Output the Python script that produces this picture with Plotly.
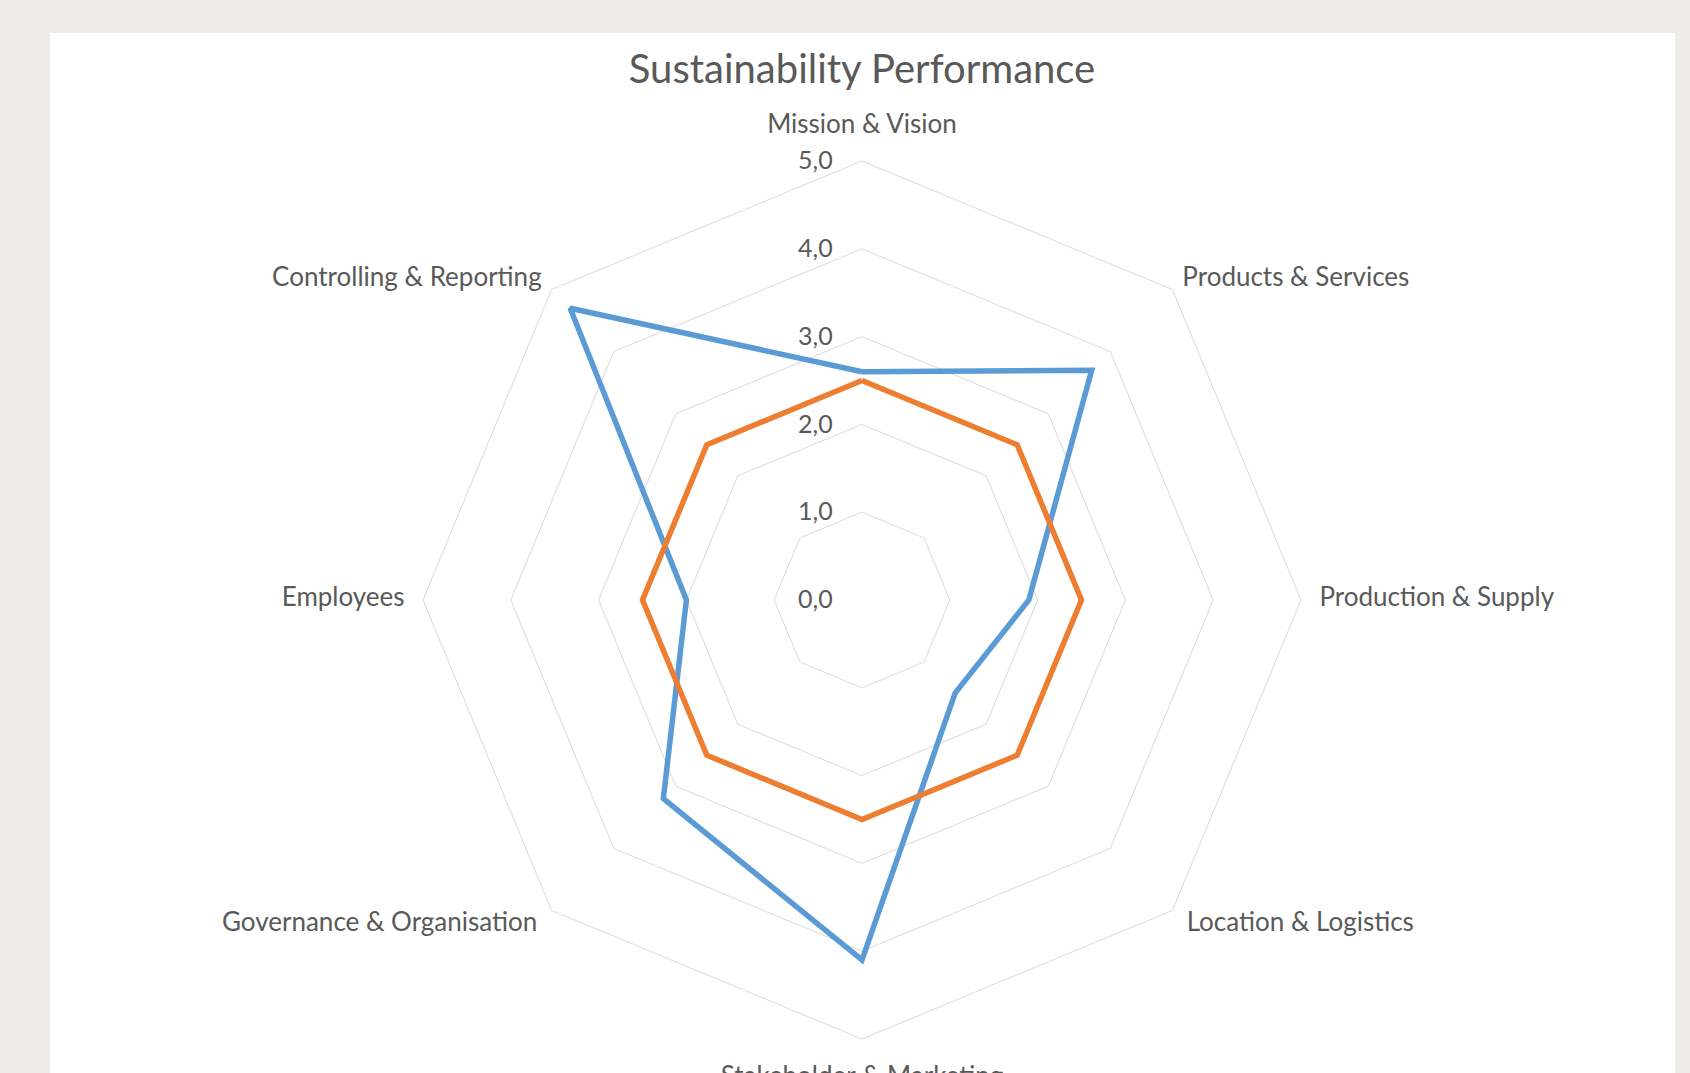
import plotly.graph_objects as go

categories = ["Mission & Vision", "Products & Services", "Production & Supply",
              "Location & Logistics", "Stakeholder & Marketing",
              "Governance & Organisation", "Employees", "Controlling & Reporting"]
series_actual = [2.6, 3.7, 1.9, 1.5, 4.1, 3.2, 2.0, 4.7]
series_target = [2.5, 2.5, 2.5, 2.5, 2.5, 2.5, 2.5, 2.5]
radial_tickvals = [0, 1, 2, 3, 4, 5]
radial_ticktext = ["0,0", "1,0", "2,0", "3,0", "4,0", "5,0"]

W, H = 1690, 1073
cx, cy, R5 = 862, 600, 439          # centre and pixel radius of the 5,0 ring
RMAX = 5.38                          # radial range end (room for category labels)
R = R5 * RMAX / 5

# label placement (style): radius just outside the outer ring and text anchor
label_r = [5.25, 5.16, 5.21, 5.23, 5.3, 5.23, 5.21, 5.16]
label_pos = ["top center", "middle right", "middle right", "middle right",
             "bottom center", "middle left", "middle left", "middle left"]

def closed(v):
    return list(v) + [v[0]]

font_fam = "Lato, 'Open Sans', sans-serif"

fig = go.Figure()
fig.add_trace(go.Scatterpolar(r=closed(series_actual), theta=closed(categories),
                              mode="lines", line=dict(color="#5B9BD5", width=5.5),
                              name="Actual"))
fig.add_trace(go.Scatterpolar(r=closed(series_target), theta=closed(categories),
                              mode="lines", line=dict(color="#ED7D31", width=5.5),
                              name="Target"))
fig.add_trace(go.Scatterpolar(r=label_r, theta=categories, mode="text",
                              text=categories, textposition=label_pos,
                              textfont=dict(size=26, family=font_fam, color="#595959"),
                              cliponaxis=False, hoverinfo="skip", name="labels"))

fig.update_layout(
    width=W, height=H,
    margin=dict(l=0, r=0, t=0, b=0),
    paper_bgcolor="#EDEDE6",
    showlegend=False,
    font=dict(family=font_fam, color="#595959"),
    title=dict(text="Sustainability Performance", x=cx / W, y=1 - 69 / H,
               xanchor="center", yanchor="middle",
               font=dict(size=40, family=font_fam, color="#595959")),
    shapes=[dict(type="rect", xref="paper", yref="paper",
                 x0=50 / W, x1=1675 / W, y0=-0.2, y1=1 - 33 / H,
                 fillcolor="white", line=dict(width=0), layer="below")],
    polar=dict(
        domain=dict(x=[(cx - R) / W, (cx + R) / W],
                    y=[max(0, (H - cy - R) / H), (H - cy + R) / H]),
        bgcolor="rgba(0,0,0,0)",
        gridshape="linear",
        angularaxis=dict(rotation=90, direction="clockwise", showgrid=False,
                         showline=False, showticklabels=False, ticks=""),
        radialaxis=dict(range=[0, RMAX], tickvals=radial_tickvals, ticktext=radial_ticktext,
                        angle=90, tickangle=90, side="counterclockwise",
                        showline=False, showgrid=True, gridcolor="#D9D9D9", gridwidth=1,
                        ticks="outside", ticklen=20, tickcolor="rgba(0,0,0,0)",
                        tickfont=dict(size=25, family=font_fam, color="#595959")),
    ),
)

fig.write_html("out.html", config={"displayModeBar": False},
               post_script="document.body.style.margin='0';document.body.style.background='#EDEDE6';")
